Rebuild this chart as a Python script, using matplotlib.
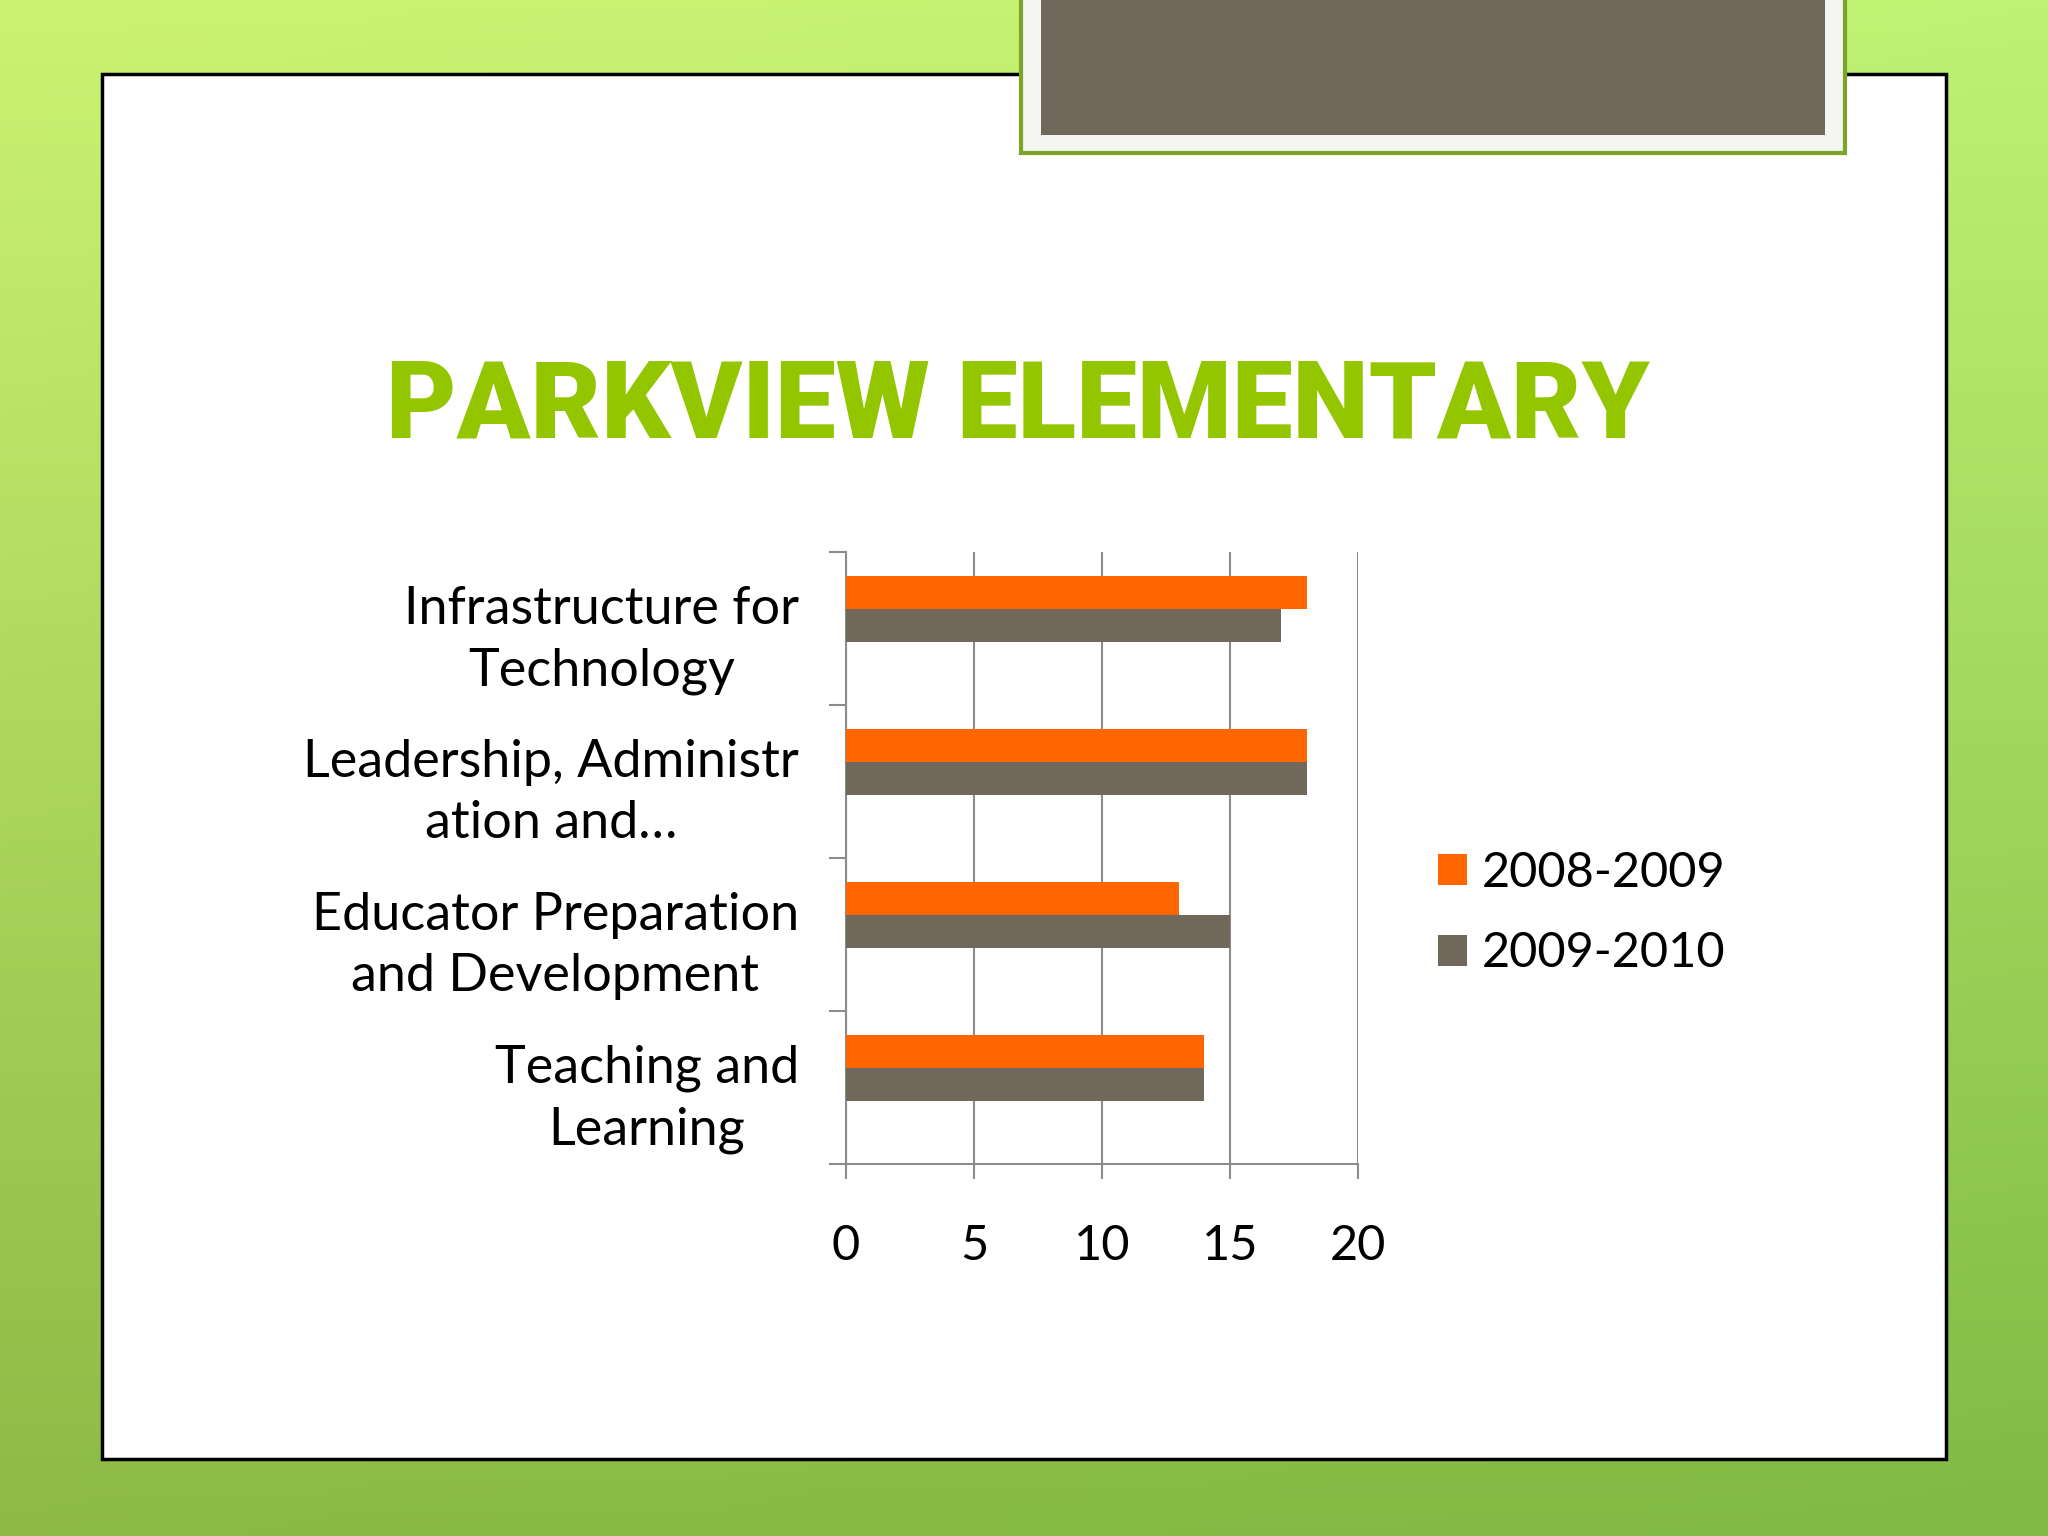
import numpy as np
import matplotlib
matplotlib.use("Agg")
import matplotlib.pyplot as plt
from matplotlib.patches import Rectangle, Patch

# data
categories = ["Infrastructure for\nTechnology",
              "Leadership, Administr\nation and\u2026",
              "Educator Preparation\nand Development",
              "Teaching and\nLearning"]
vals_0809 = [18, 18, 13, 14]
vals_0910 = [17, 18, 15, 14]
series_names = ["2008-2009", "2009-2010"]
xticks = [0, 5, 10, 15, 20]

orange = "#ff6600"
grey = "#6f685b"
axis_grey = "#8c8c8c"

plt.rcParams['font.family'] = ['Lato', 'DejaVu Sans']

W, H = 2048, 1536
fig = plt.figure(figsize=(W / 100, H / 100), dpi=100)

# green background gradient
bg = fig.add_axes([0, 0, 1, 1])
gy = np.linspace(0, 1, 256)[:, None]
gx = np.linspace(0, 1, 256)[None, :]
r = 0.80 - 0.25 * gy - 0.05 * gx
g = 0.95 - 0.22 * gy
b = 0.45 - 0.18 * gy
img = np.dstack([r * np.ones_like(gx), g * np.ones_like(gx), b * np.ones_like(gx)])
bg.imshow(np.clip(img, 0, 1), aspect='auto', extent=[0, 1, 0, 1], origin='upper')
bg.set_xlim(0, 1)
bg.set_ylim(0, 1)
bg.axis('off')

def fx(px):
    return px / W

def fy(py):
    return 1 - py / H

# white slide panel with black border
bg.add_patch(Rectangle((fx(102), fy(1459)), fx(1946) - fx(102), fy(74) - fy(1459),
                       facecolor='white', edgecolor='black', linewidth=2.5, zorder=2))
# title box at top
bg.add_patch(Rectangle((fx(1021), fy(153)), fx(1845) - fx(1021), fy(-5) - fy(153),
                       facecolor='#f5f5f1', edgecolor='#7ba428', linewidth=3, zorder=3))
bg.add_patch(Rectangle((fx(1041), fy(135)), fx(1825) - fx(1041), fy(-5) - fy(135),
                       facecolor=grey, edgecolor='none', zorder=4))

# title
fig.text(0.497, fy(408), "PARKVIEW ELEMENTARY", ha='center', va='center',
         fontsize=78, fontweight='black', color='#94c600',
         family=['Roboto', 'DejaVu Sans'])

# chart
ax = fig.add_axes([fx(846), fy(1164), fx(1358) - fx(846), fy(552) - fy(1164)])
ax.set_facecolor('none')
y = np.arange(len(categories))
h = 0.216
off = 0.127
ax.barh(y - off - h / 2, vals_0809, height=h, color=orange, zorder=3)
ax.barh(y - off + h / 2, vals_0910, height=h, color=grey, zorder=3)

ax.set_xlim(0, 20)
ax.set_ylim(len(categories) - 0.5, -0.5)
ax.set_xticks(xticks)
ax.set_xticklabels([str(t) for t in xticks])
ax.set_yticks(np.arange(len(categories) + 1) - 0.5)
ax.set_yticklabels([])
ax.set_yticks(y, minor=True)
ax.set_yticklabels(categories, minor=True, ha='right', multialignment='center',
                   linespacing=1.38)
ax.tick_params(axis='y', which='minor', length=0, pad=34, labelsize=37.5)
ax.tick_params(axis='y', which='major', length=12, width=1.5, color=axis_grey)
ax.tick_params(axis='x', length=11, width=1.5, color=axis_grey, pad=32, labelsize=35)
ax.grid(axis='x', color=axis_grey, linewidth=1.5, zorder=0)
for s in ['top', 'right']:
    ax.spines[s].set_visible(False)
for s in ['left', 'bottom']:
    ax.spines[s].set_color(axis_grey)
    ax.spines[s].set_linewidth(1.5)
ax.set_axisbelow(True)

handles = [Patch(facecolor=orange), Patch(facecolor=grey)]
fig.legend(handles, series_names, loc='center left', bbox_to_anchor=(fx(1414), fy(913)),
           frameon=False, fontsize=35, handlelength=0.6, handleheight=0.6,
           handletextpad=0.3, labelspacing=0.75, borderpad=0)

fig.savefig("out.png", dpi=100)
